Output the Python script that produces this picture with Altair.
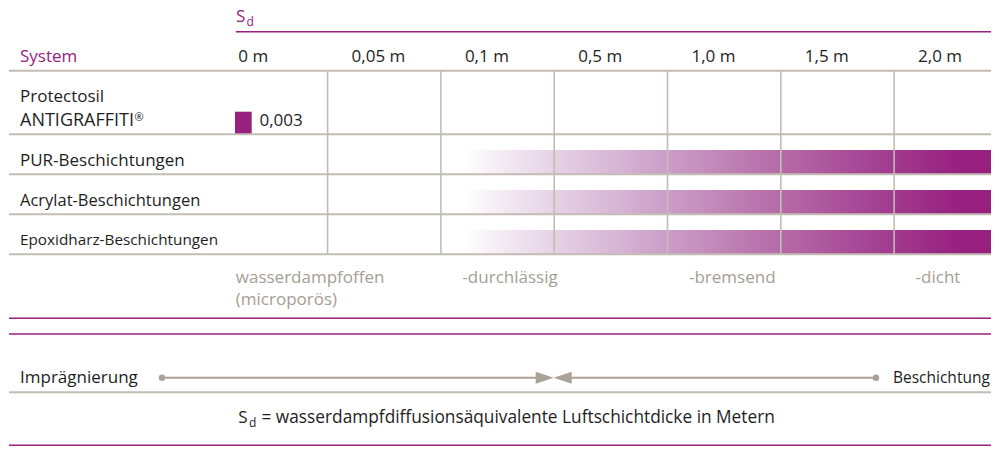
import altair as alt
import pandas as pd

# ---------------- data ----------------
sd_columns = ["0 m", "0,05 m", "0,1 m", "0,5 m", "1,0 m", "1,5 m", "2,0 m"]
systems = ["Protectosil", "PUR-Beschichtungen", "Acrylat-Beschichtungen", "Epoxidharz-Beschichtungen"]
system_line2 = ["ANTIGRAFFITI", "", "", ""]
registered = "®"
protectosil_sd = "0,003"
coating_rows = ["PUR-Beschichtungen", "Acrylat-Beschichtungen", "Epoxidharz-Beschichtungen"]
coating_from_col = [2.2, 2.2, 2.2]          # coatings start around 0,1 m ...
classes = ["wasserdampfoffen", "-durchlässig", "-bremsend", "-dicht"]
classes_line2 = ["(microporös)", "", "", ""]
class_col = [0, 2, 4, 6]
scale_ends = ["Imprägnierung", "Beschichtung"]
footnote = "= wasserdampfdiffusionsäquivalente Luftschichtdicke in Metern"

# ---------------- layout / style ----------------
FONT = "Open Sans"
DARK = "#1e1e1e"
PURPLE = "#97217f"
GRAY_TXT = "#a69e95"
GRID = "#c4bdb4"
TAUPE = "#aba297"

W, H = 983, 438
XS = alt.Scale(domain=[8, 991], range=[0, W], nice=False, zero=False)
YS = alt.Scale(domain=[8, 446], range=[0, H], nice=False, zero=False)

COL0, COLW = 214.3, 113.3
LEFT, RIGHT = 9, 991


def cx(c):
    return COL0 + COLW * c


row_lines = [70.7, 134.3, 174.3, 214.3, 254.3]
row_baselines = [101.5, 165.7, 205.7, 245.3]
row_sizes = [17, 17, 16.5, 15.3]


def X(f="x"):
    return alt.X(f"{f}:Q", scale=XS, axis=None)


def Y(f="y"):
    return alt.Y(f"{f}:Q", scale=YS, axis=None)


def texts(df, size=17, color=DARK, align="left"):
    return alt.Chart(df).mark_text(
        align=align, baseline="alphabetic", fontSize=size, color=color, font=FONT
    ).encode(x=X(), y=Y(), text="t:N")


def hrules(df, color, width):
    return alt.Chart(df).mark_rule(color=color, strokeWidth=width).encode(
        x=X("x"), x2="x2:Q", y=Y("y"))


layers = []

# gradient bars (the reference runs to 999 px; here they stop at the visible edge)
grad = alt.Gradient(
    gradient="linear", x1=0, x2=1, y1=0, y2=0,
    stops=[
        alt.GradientStop(offset=0.0, color="#ffffff"),
        alt.GradientStop(offset=0.07, color="#f4ecf4"),
        alt.GradientStop(offset=0.170, color="#e5d2e5"),
        alt.GradientStop(offset=0.386, color="#cc9ec8"),
        alt.GradientStop(offset=0.60, color="#b56ba7"),
        alt.GradientStop(offset=0.815, color="#a13a8e"),
        alt.GradientStop(offset=0.94, color="#97217f"),
        alt.GradientStop(offset=1.0, color="#95207e"),
    ],
)
bars = pd.DataFrame({
    "sys": coating_rows,
    "x": [cx(c) for c in coating_from_col],
    "x2": [RIGHT] * 3,
    "y": [row_lines[i + 2] - 24.3 for i in range(3)],
    "y2": [row_lines[i + 2] for i in range(3)],
})
layers.append(alt.Chart(bars).mark_rect(color=grad).encode(
    x=X("x"), x2="x2:Q", y=Y("y"), y2="y2:Q"))

# Protectosil marker
sq = pd.DataFrame({"x": [235.0], "x2": [251.7], "y": [111.7], "y2": [row_lines[1]]})
layers.append(alt.Chart(sq).mark_rect(color=PURPLE).encode(
    x=X("x"), x2="x2:Q", y=Y("y"), y2="y2:Q"))

# grid
layers.append(hrules(pd.DataFrame({"x": [LEFT] * 5, "x2": [RIGHT] * 5, "y": row_lines}), GRID, 2))
vl = pd.DataFrame({"x": [cx(i) for i in range(1, 7)], "y": [row_lines[0]] * 6, "y2": [row_lines[-1]] * 6})
layers.append(alt.Chart(vl).mark_rule(color=GRID, strokeWidth=1.6).encode(
    x=X("x"), y=Y("y"), y2="y2:Q"))
layers.append(hrules(pd.DataFrame({"x": [LEFT], "x2": [RIGHT], "y": [392.3]}), GRID, 2))

# purple lines
layers.append(hrules(pd.DataFrame({
    "x": [cx(0.19), LEFT, LEFT, LEFT], "x2": [RIGHT] * 4, "y": [31.7, 318.3, 334.0, 445.2]}),
    PURPLE, 1.4))

# header
layers.append(texts(pd.DataFrame({"t": ["S"], "x": [236.0], "y": [21.5]}), color=PURPLE))
layers.append(texts(pd.DataFrame({"t": ["d"], "x": [246.6], "y": [25.5]}), size=12, color=PURPLE))
layers.append(texts(pd.DataFrame({"t": ["System"], "x": [20.0], "y": [62.3]}), color=PURPLE))
layers.append(texts(pd.DataFrame({"t": sd_columns, "x": [cx(i) + 24 for i in range(7)], "y": [62.3] * 7})))

# system labels
for i, name in enumerate(systems):
    layers.append(texts(pd.DataFrame({"t": [name], "x": [20.0], "y": [row_baselines[i]]}), size=row_sizes[i]))
layers.append(texts(pd.DataFrame({"t": [system_line2[0]], "x": [20.0], "y": [126.0]}), size=18))
layers.append(texts(pd.DataFrame({"t": [registered], "x": [134.5], "y": [120.5]}), size=11))
layers.append(texts(pd.DataFrame({"t": [protectosil_sd], "x": [259.5], "y": [126.0]})))

# class labels
layers.append(texts(pd.DataFrame({"t": classes, "x": [cx(c) + 21.5 for c in class_col], "y": [282.5] * 4}),
                    color=GRAY_TXT))
layers.append(texts(pd.DataFrame({"t": [classes_line2[0]], "x": [cx(0) + 21.5], "y": [304.5]}), color=GRAY_TXT))

# bottom scale
layers.append(texts(pd.DataFrame({"t": [scale_ends[0]], "x": [20.0], "y": [383.3]})))
layers.append(texts(pd.DataFrame({"t": [scale_ends[1]], "x": [893.0], "y": [383.3]}), size=15.5))
layers.append(hrules(pd.DataFrame({"x": [162.0, cx(3) + 16], "x2": [cx(3) - 16, 876.0], "y": [377.7, 377.7]}),
                     TAUPE, 2))
dots = pd.DataFrame({"x": [162.0, 876.0], "y": [377.7, 377.7]})
layers.append(alt.Chart(dots).mark_point(shape="circle", filled=True, size=42, color=TAUPE, opacity=1).encode(
    x=X(), y=Y()))
tri_r = pd.DataFrame({"x": [cx(3) - 9.5], "y": [377.7]})
tri_l = pd.DataFrame({"x": [cx(3) + 8.5], "y": [377.7]})
layers.append(alt.Chart(tri_r).mark_point(shape="M-1,-0.67L1,0L-1,0.67Z", filled=True, size=324,
                                          color=TAUPE, opacity=1, strokeWidth=0).encode(x=X(), y=Y()))
layers.append(alt.Chart(tri_l).mark_point(shape="M1,-0.67L-1,0L1,0.67Z", filled=True, size=324,
                                          color=TAUPE, opacity=1, strokeWidth=0).encode(x=X(), y=Y()))

# footnote
layers.append(texts(pd.DataFrame({"t": ["S"], "x": [238.3], "y": [423.0]})))
layers.append(texts(pd.DataFrame({"t": ["d"], "x": [249.0], "y": [427.0]}), size=12))
layers.append(texts(pd.DataFrame({"t": [footnote], "x": [261.5], "y": [423.0]}), size=17.3))

chart = alt.layer(*layers).properties(
    width=W, height=H, autosize=alt.AutoSizeParams(type="none"), padding=0, background="white"
).configure_view(stroke=None)

chart.save("out.html", embed_options={"renderer": "svg", "actions": False})
